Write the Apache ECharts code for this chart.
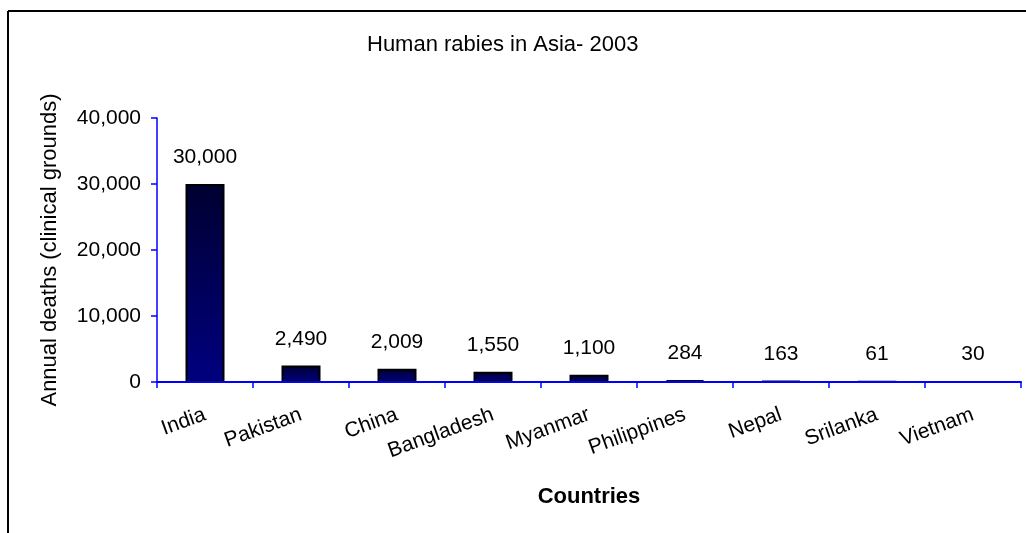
<!DOCTYPE html>
<html>
<head>
<meta charset="utf-8">
<script src="https://cdn.jsdelivr.net/npm/echarts@6/dist/echarts.min.js"></script>
<style>
  html, body { margin: 0; padding: 0; background: #ffffff; }
  #chart { width: 1026px; height: 533px; }
</style>
</head>
<body>
<div id="chart"></div>
<script>
// Annual human rabies deaths (clinical grounds), Asia 2003
const countries = ['India', 'Pakistan', 'China', 'Bangladesh', 'Myanmar', 'Philippines', 'Nepal', 'Srilanka', 'Vietnam'];
const deaths = [30000, 2490, 2009, 1550, 1100, 284, 163, 61, 30];
const yTicks = [0, 10000, 20000, 30000, 40000];

const fontFamily = '"Liberation Sans", Arial, sans-serif';
const fmt = v => v.toLocaleString('en-US');

const chart = echarts.init(document.getElementById('chart'), null, { renderer: 'canvas' });

chart.setOption({
  backgroundColor: '#ffffff',
  animation: false,
  title: {
    text: 'Human rabies in Asia- 2003',
    left: 362,
    top: 29,
    textStyle: { fontFamily, fontSize: 22, fontWeight: 'normal', color: '#000000' }
  },
  // frame around the chart area (left and top edges)
  graphic: [
    { type: 'line', shape: { x1: 8, y1: 11, x2: 1030, y2: 11 }, style: { stroke: '#000000', lineWidth: 2 } },
    { type: 'line', shape: { x1: 8, y1: 11, x2: 8, y2: 540 }, style: { stroke: '#000000', lineWidth: 2 } }
  ],
  grid: { left: 157, right: 5, top: 118, bottom: 151, containLabel: false },
  xAxis: {
    type: 'category',
    data: countries,
    z: 10,
    name: 'Countries',
    nameLocation: 'middle',
    nameGap: 104,
    nameTextStyle: { fontFamily, fontSize: 22, fontWeight: 'bold', color: '#000000' },
    axisLine: { lineStyle: { color: '#0000ff', width: 2 } },
    axisTick: { show: true, alignWithLabel: false, length: 6, lineStyle: { color: '#0000ff', width: 1.5 } },
    axisLabel: { rotate: 20, margin: 32, fontFamily, fontSize: 21, color: '#000000', interval: 0 },
    splitLine: { show: false }
  },
  yAxis: {
    type: 'value',
    min: yTicks[0],
    max: yTicks[yTicks.length - 1],
    interval: yTicks[1] - yTicks[0],
    name: 'Annual deaths (clinical grounds)',
    nameLocation: 'middle',
    nameGap: 96,
    nameTextStyle: { fontFamily, fontSize: 22, color: '#000000' },
    axisLine: { show: true, lineStyle: { color: '#0000ff', width: 1.5 } },
    axisTick: { show: true, length: 6, lineStyle: { color: '#0000ff', width: 1.5 } },
    axisLabel: { margin: 16, fontFamily, fontSize: 21, color: '#000000', formatter: v => fmt(v) },
    splitLine: { show: false }
  },
  series: [{
    type: 'bar',
    data: deaths,
    barWidth: 39,
    itemStyle: {
      color: new echarts.graphic.LinearGradient(0, 0, 0, 1, [
        { offset: 0, color: '#000030' },
        { offset: 1, color: '#000080' }
      ]),
      borderColor: '#000000',
      borderWidth: 2
    },
    label: {
      show: true,
      position: 'top',
      distance: 16,
      fontFamily,
      fontSize: 21,
      color: '#000000',
      formatter: p => fmt(p.value)
    }
  }]
});
</script>
</body>
</html>
